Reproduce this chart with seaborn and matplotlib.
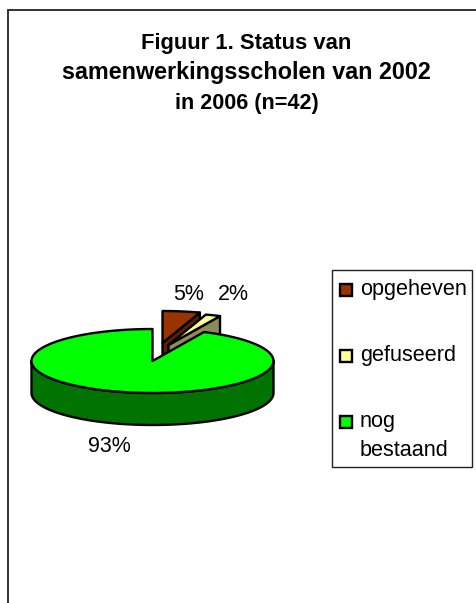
import numpy as np
import seaborn as sns
import matplotlib.pyplot as plt
from matplotlib.patches import Polygon, Rectangle

title_lines = ['Figuur 1. Status van', 'samenwerkingsscholen van 2002', 'in 2006 (n=42)']
categories = ['opgeheven', 'gefuseerd', 'nog\nbestaand']
values = [5, 2, 93]
pct_labels = ['5%', '2%', '93%']

top_colors = ['#993300', '#FFFF99', '#00FF00']
side_colors = ['#5C1F00', '#8C8C5A', '#007300']

sns.set_theme(style='white')
plt.rcParams['font.family'] = ['Liberation Sans', 'DejaVu Sans']

# pie geometry in figure pixels
cx, cy = 152.5, 361
rx, ry = 121, 32
depth = 32
offsets = [(10, -18), (16, -16), (0, 0)]


def point(angle, off=(0, 0), drop=0):
    # angle in degrees, clockwise from 12 o'clock
    a = np.radians(angle)
    return np.column_stack([cx + off[0] + rx * np.sin(a), cy + off[1] - ry * np.cos(a) + drop])


def arc(start, end, off=(0, 0), drop=0):
    return point(np.linspace(start, end, 120), off, drop)


fig = plt.figure(figsize=(4.77, 6.03), dpi=100)
ax = fig.add_axes([0, 0, 1, 1])
ax.set_xlim(0, 477)
ax.set_ylim(603, 0)
ax.axis('off')

# chart frame, runs off the right and bottom of the picture
ax.plot([8, 8, 477], [603, 10, 10], color='#222222', lw=1.3, solid_joinstyle='miter')

# second line is set wider in the original
for line, y, size in zip(title_lines, [43, 73, 104], [15.8, 16.8, 15.6]):
    ax.text(246.5, y, line, ha='center', va='center', fontsize=size, fontweight='bold', color='black')

bounds = np.concatenate([[0], np.cumsum(values)]) * 3.6
edge = dict(edgecolor='black', linewidth=1.7, joinstyle='round')

# two small exploded slices first, green covers their lower part
for i in [0, 1]:
    start, end = bounds[i], bounds[i + 1]
    off = offsets[i]
    apex = np.array([[cx + off[0], cy + off[1]]])
    wall = np.vstack([apex, point(end, off), point(end, off, depth), apex + [0, depth]])
    ax.add_patch(Polygon(wall, facecolor=side_colors[i], **edge))
    ax.add_patch(Polygon(np.vstack([apex, arc(start, end, off)]), facecolor=top_colors[i], **edge))

# green slice: front wall and top
start, end = bounds[2], bounds[3]
front = arc(max(start, 90), 270)
ax.add_patch(Polygon(np.vstack([front, front[::-1] + [0, depth]]), facecolor=side_colors[2], **edge))
ax.add_patch(Polygon(np.vstack([[[cx, cy]], arc(start, end)]), facecolor=top_colors[2], **edge))

ax.text(189, 295, pct_labels[0], ha='center', va='center', fontsize=15.5, color='black')
ax.text(233, 295, pct_labels[1], ha='center', va='center', fontsize=15.5, color='black')
ax.text(109, 446, pct_labels[2], ha='center', va='center', fontsize=15.5, color='black')

# legend box
ax.add_patch(Rectangle((332, 270), 140, 197, facecolor='white', edgecolor='#222222', linewidth=1.0))
for label, color, y_box in zip(categories, top_colors, [289.5, 355.5, 421.5]):
    ax.add_patch(Rectangle((340, y_box - 6), 12, 12, facecolor=color, edgecolor='black', linewidth=1.7))
    ax.text(360, y_box - 11, label, ha='left', va='top', fontsize=15.6, color='black', linespacing=1.5)

fig.savefig('out.png', dpi=100)
